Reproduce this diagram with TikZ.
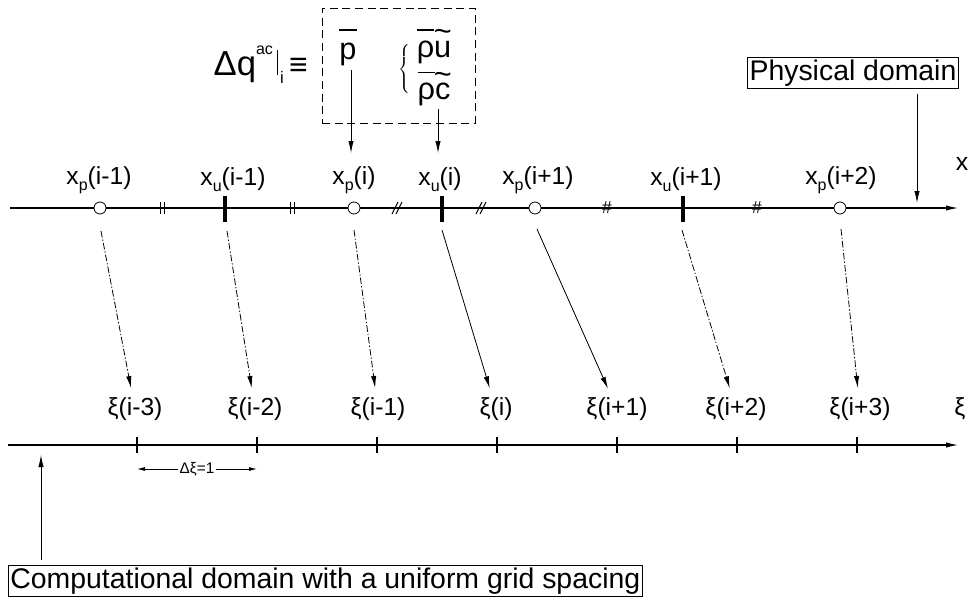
\documentclass[tikz,border=0pt]{standalone}
\usepackage{fontspec}
\setmainfont{Liberation Sans}
\usetikzlibrary{arrows.meta}
\newcommand{\obar}[2][0.9em]{\setbox0\hbox{#2}\rlap{\rule[#1]{\wd0}{0.055em}}\box0}
\newcommand{\otil}[2][0.55em]{\setbox0\hbox{#2}\rlap{\makebox[\wd0]{\raisebox{#1}{\char"7E}}}\box0}
\begin{document}
\begin{tikzpicture}[x=0.75pt,y=-0.75pt,
  lab/.style={font=\fontsize{18.5}{20}\selectfont, inner sep=0pt},
  big/.style={font=\fontsize{21.3}{24}\selectfont},
  qf/.style={font=\fontsize{23}{26}\selectfont},
  arr/.style={-{Latex[length=9pt,width=4pt]}, line width=0.6pt},
  sarr/.style={-{Latex[length=6pt,width=3pt]}, line width=0.6pt},
  dd/.style={dash pattern=on 5pt off 1.5pt on 1pt off 1.5pt},
  axisline/.style={line width=0.8pt, -{Latex[length=9pt,width=4pt]}},
  pcirc/.style={circle, draw, fill=white, line width=0.6pt, minimum size=9pt, inner sep=0pt},
  ubar/.style={fill=black, minimum width=2.3pt, minimum height=19.5pt, inner sep=0pt},
  xtick/.style={line width=1pt},
  hmark/.style={line width=0.7pt},
]
\useasboundingbox (0,0) rectangle (975,603);

% ---------- top (physical) axis ----------
\coordinate (tl) at (10,208);
\coordinate (tr) at (958,208);
\draw[axisline] (tl) -- (tr);
\node[lab] (xlab) at (962,164) {x};

\node[pcirc] (p1) at (100,208) {};
\node[pcirc] (p2) at (354,208) {};
\node[pcirc] (p3) at (535,208) {};
\node[pcirc] (p4) at (840,208) {};
\node[ubar] (u1) at (225,209) {};
\node[ubar] (u2) at (442,209) {};
\node[ubar] (u3) at (683,209) {};

% spacing marks
\foreach \m in {162,292}{
  \draw[hmark] (\m-2,202) -- (\m-2,214);
  \draw[hmark] (\m+2,202) -- (\m+2,214);
}
\foreach \m in {397,481}{
  \draw[hmark] (\m-5,214) -- (\m+1,202);
  \draw[hmark] (\m-1,214) -- (\m+5,202);
}
\node[font=\fontsize{13}{13}\selectfont, inner sep=0pt] (h1) at (607,208) {\#};
\node[font=\fontsize{13}{13}\selectfont, inner sep=0pt] (h2) at (757,208) {\#};

\newcommand{\sbs}[1]{\raisebox{-0.45ex}{\fontsize{12}{12}\selectfont #1}}
\node[lab] (lp1) at (99,180) {x\sbs{p}(i-1)};
\node[lab] (lu1) at (233,180) {x\sbs{u}(i-1)};
\node[lab] (lp2) at (354,180) {x\sbs{p}(i)};
\node[lab] (lu2) at (440,180) {x\sbs{u}(i)};
\node[lab] (lp3) at (538,180) {x\sbs{p}(i+1)};
\node[lab] (lu3) at (686,180) {x\sbs{u}(i+1)};
\node[lab] (lp4) at (841,180) {x\sbs{p}(i+2)};

% start points of the mapping arrows
\coordinate (s1) at (101,231);
\coordinate (s2) at (227,231);
\coordinate (s3) at (354,230);
\coordinate (s4) at (442,230);
\coordinate (s5) at (537,229);
\coordinate (s6) at (682,230);
\coordinate (s7) at (841,229);

% ---------- bottom (computational) axis ----------
\coordinate (bl) at (8,445);
\coordinate (br) at (958,445);
\draw[axisline] (bl) -- (br);
\foreach \t/\xx in {1/137,2/257,3/377,4/497,5/617,6/737,7/857}{
  \coordinate (t\t) at (\xx,445);
  \draw[xtick] (\xx,437) -- (\xx,453);
}
\node[lab] (k1) at (135,409) {ξ(i-3)};
\node[lab] (k2) at (255,409) {ξ(i-2)};
\node[lab] (k3) at (378,409) {ξ(i-1)};
\node[lab] (k4) at (496,409) {ξ(i)};
\node[lab] (k5) at (617,409) {ξ(i+1)};
\node[lab] (k6) at (736,409) {ξ(i+2)};
\node[lab] (k7) at (860,409) {ξ(i+3)};
\node[lab] (kx) at (960,409) {ξ};

% mapping arrows
\draw[arr,dd,shorten >=7pt] (s1) -- (k1);
\draw[arr,dd,shorten >=7pt] (s2) -- (k2);
\draw[arr,dd,shorten >=7pt] (s3) -- (k3);
\draw[arr,shorten >=7pt] (s4) -- (k4);
\draw[arr,shorten >=7pt] (s5) -- (k5);
\draw[arr,dd,shorten >=7pt] (s6) -- (k6);
\draw[arr,dd,shorten >=7pt] (s7) -- (k7);

% delta xi
\node[font=\fontsize{11.5}{12}\selectfont, inner sep=1pt] (dxi) at (197,469) {Δξ=1};
\draw[sarr] (dxi.west) -- (t1 |- dxi.west);
\draw[sarr] (dxi.east) -- (t2 |- dxi.east);

% ---------- boxes ----------
\node[draw, big, inner sep=1.5pt, line width=0.6pt] (phys) at (853,73) {Physical domain};
\coordinate (pa) at (917,203);
\draw[arr] (pa |- phys.south) ++(0,5) -- (pa);

\node[draw, big, inner sep=1.5pt, anchor=west, line width=0.6pt] (comp) at (8,581) {Computational domain with a uniform grid spacing};
\coordinate (ca) at (41,455);
\draw[arr, shorten <=4pt] (ca |- comp.north) -- (ca);

% ---------- Delta q box ----------
\node[font=\fontsize{26}{28}\selectfont, anchor=base east, inner sep=0pt] (dq) at (308,75)
  {Δq\raisebox{1.1ex}{\fontsize{12}{13}\selectfont ac}\hspace{3pt}\rule{0.8pt}{19pt}\hspace{1.5pt}\raisebox{-6pt}{\fontsize{12.5}{12.5}\selectfont i}\hspace{4pt}{\fontsize{24}{26}\selectfont ≡}};
\node[draw, dashed, dash pattern=on 6pt off 3.5pt, line width=0.6pt, minimum width=114.75pt, minimum height=86.25pt, inner sep=0pt] (qbox) at (398.5,65.5) {};
\node[qf, anchor=base, inner sep=0pt] (pb) at (348,60) {\obar[0.95em]{p}};
\node[qf, anchor=base, inner sep=0pt] (ru) at (434,57) {\obar[0.86em]{ρ}\otil[0.5em]{u}};
\node[qf, anchor=base, inner sep=0pt] (rc) at (434,99) {\obar[0.84em]{ρ}\otil[0.48em]{c}};
\node[inner sep=0pt] (brace) at (405,70) {$\left\{\vrule height 17pt depth 17pt width 0pt\right.$};
\coordinate (pt) at (351,153);
\coordinate (ct) at (438,153);
\draw[arr] (pt |- pb.south) ++(0,3) -- (pt);
\draw[arr] (ct |- rc.south) ++(0,3) -- (ct);
\end{tikzpicture}
\end{document}
